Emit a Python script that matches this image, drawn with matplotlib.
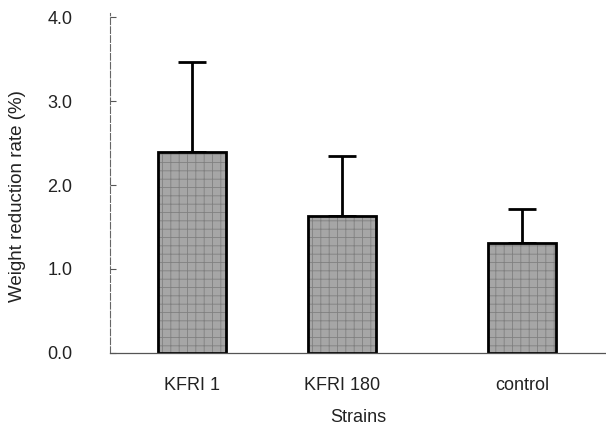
import matplotlib.pyplot as plt
import numpy as np

strains = ['KFRI 1', 'KFRI 180', 'control']
rate = [2.39, 1.63, 1.31]
err = [1.07, 0.72, 0.40]
yticks = [0.0, 1.0, 2.0, 3.0, 4.0]

plt.rcParams['font.family'] = ['Liberation Sans', 'DejaVu Sans']
plt.rcParams['hatch.linewidth'] = 0.6

fig = plt.figure(figsize=(6.06, 4.32), dpi=100)
ax = fig.add_axes([0.1815, 0.183, 0.8185, 0.787])

x = np.array([0, 1, 2.2])
ax.bar(x, rate, width=0.45, color='#a6a6a6', edgecolor='black', linewidth=2,
       hatch='++', zorder=2)
for b in ax.patches:
    b._hatch_color = (0.5, 0.5, 0.5, 1)
ax.errorbar(x, rate, yerr=[np.zeros(3), err], fmt='none', ecolor='black',
            elinewidth=2, capsize=10, capthick=2, zorder=1)

ax.set_xlim(-0.547, 2.76)
ax.set_ylim(0, 4.05)
ax.set_yticks(yticks)
ax.set_yticklabels([f'{v:.1f}' for v in yticks], fontsize=13, color='#222222')
ax.set_xticks(x)
ax.set_xticklabels(strains, fontsize=13, color='#222222')
ax.tick_params(axis='y', direction='in', length=4, width=0.8, color='#555555', pad=27)
ax.tick_params(axis='x', length=0, pad=17)

for s in ['top', 'right']:
    ax.spines[s].set_visible(False)
ax.spines['left'].set_linestyle((0, (6, 2)))
ax.spines['left'].set_color('#666666')
ax.spines['left'].set_linewidth(0.8)
ax.spines['bottom'].set_color('#555555')
ax.spines['bottom'].set_linewidth(0.9)

ax.set_ylabel('Weight reduction rate (%)', fontsize=13.5, color='#222222')
ax.yaxis.set_label_coords(-0.17, 0.46)
ax.set_xlabel('Strains', fontsize=13, labelpad=11, color='#222222')

fig.savefig('out.png', dpi=100)
